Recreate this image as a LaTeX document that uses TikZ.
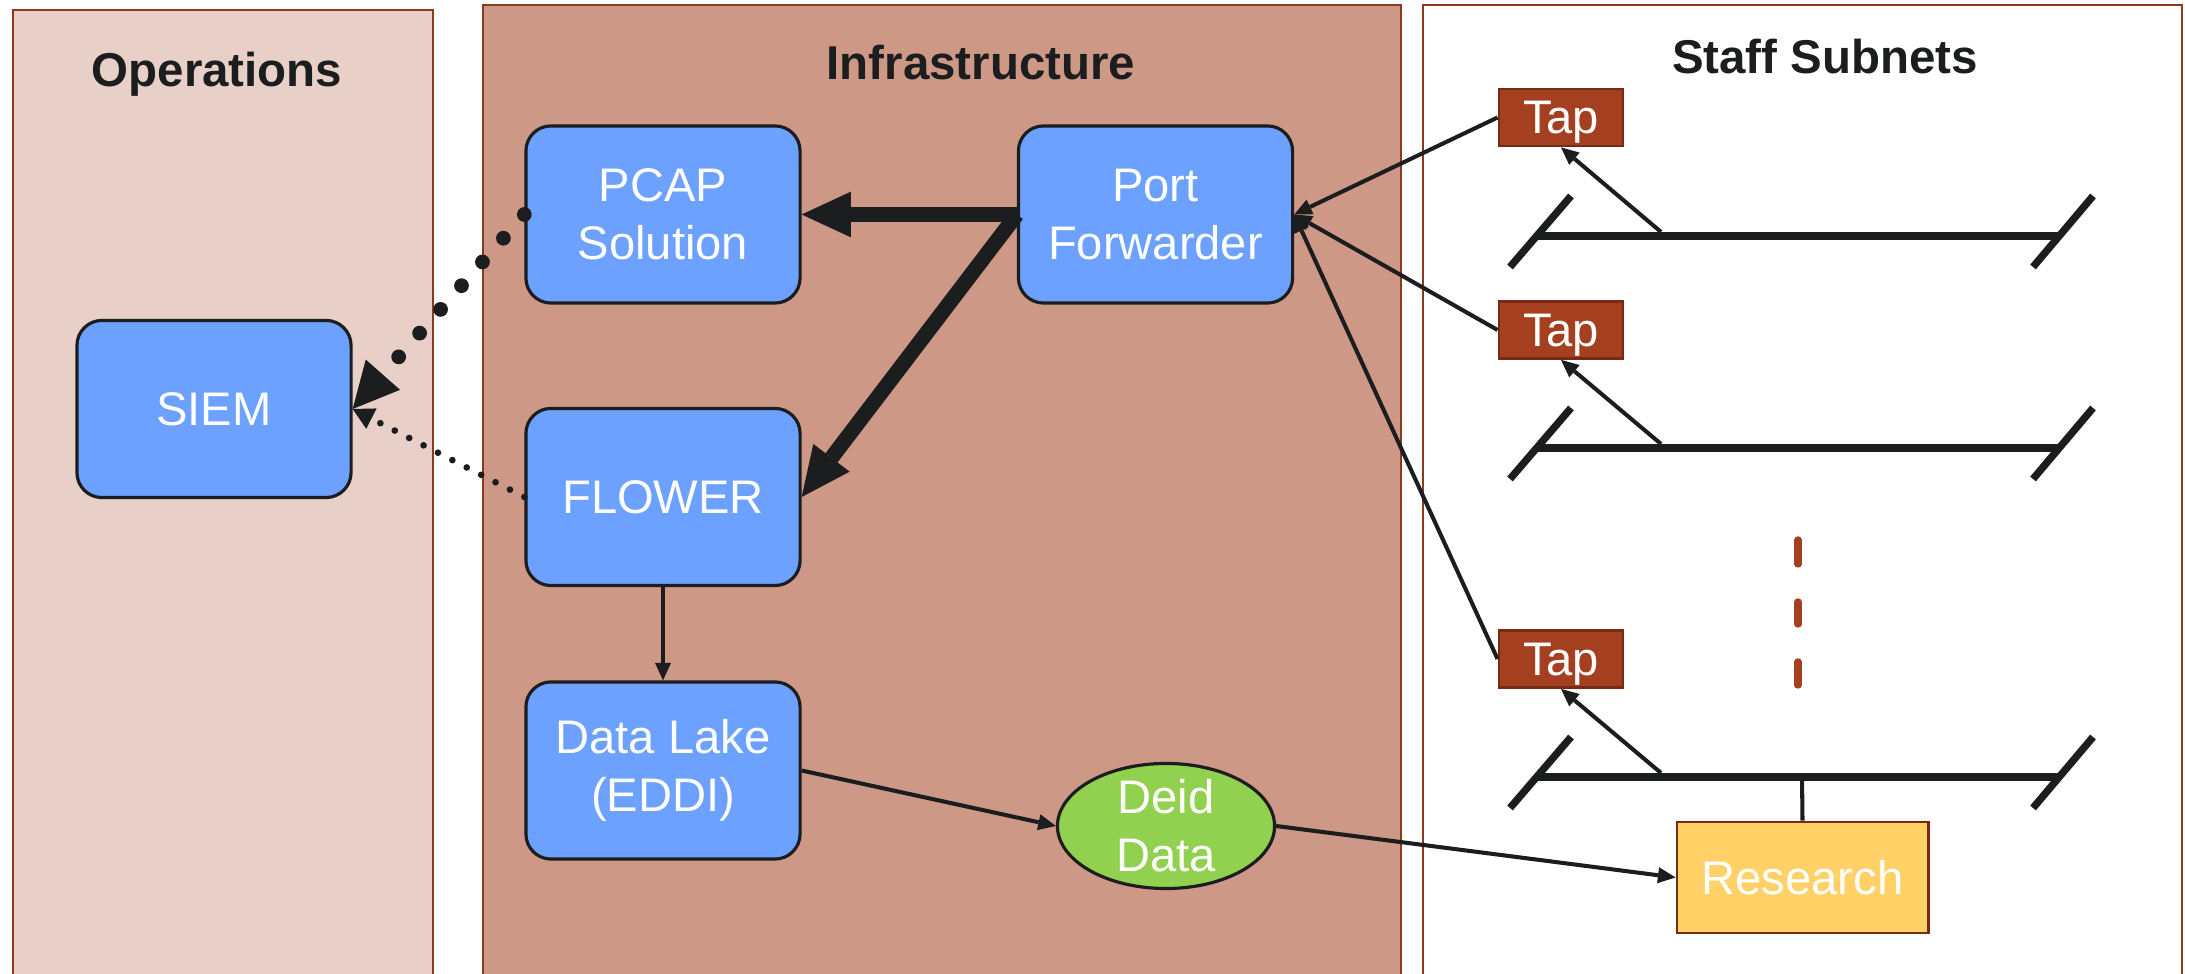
\documentclass[tikz,border=0pt]{standalone}
\usepackage{fontspec}
\setmainfont{Liberation Sans}
\usetikzlibrary{arrows.meta,shapes.geometric}
\definecolor{opsfill}{HTML}{E8CFC8}
\definecolor{infrafill}{HTML}{CE9886}
\definecolor{panelline}{HTML}{8B3A1E}
\definecolor{boxblue}{HTML}{6CA1FF}
\definecolor{ink}{HTML}{1B1D1F}
\definecolor{tapred}{HTML}{A43F1F}
\definecolor{tapline}{HTML}{7A2A12}
\definecolor{resyellow}{HTML}{FFD166}
\definecolor{deidgreen}{HTML}{92D050}
\begin{document}
\begin{tikzpicture}[x=0.01cm,y=-0.01cm,
  panel/.style={draw=panelline,line width=0.6pt},
  title/.style={anchor=base,inner sep=0pt,text=ink,font=\fontsize{13.5}{16}\selectfont\bfseries},
  boxtext/.style={text=white,align=center,font=\fontsize{13.4}{16.5}\selectfont},
  proc/.style={boxtext,draw=ink,line width=0.9pt,fill=boxblue,rounded corners=0.25cm,
    inner sep=0pt,minimum width=2.74cm,minimum height=1.77cm},
  tapbox/.style={boxtext,draw=tapline,line width=0.8pt,fill=tapred,inner sep=0pt,
    text depth=0pt,minimum width=1.24cm,minimum height=0.57cm},
  resbox/.style={boxtext,draw=tapline,line width=0.8pt,fill=resyellow,inner sep=0pt,
    minimum width=2.51cm,minimum height=1.11cm},
  deidnode/.style={ellipse,draw=ink,line width=0.9pt,fill=deidgreen,inner sep=0pt,
    minimum width=2.17cm,minimum height=1.25cm},
  thickarrow/.style={draw=ink,line width=4.3pt,-{Triangle[length=14pt,width=13pt,line width=0pt]}},
  thinarrow/.style={draw=ink,line width=1.15pt,-{Triangle[length=5pt,width=4.6pt,line width=0pt]}},
  thinline/.style={draw=ink,line width=1.15pt},
  heavydots/.style={draw=ink,line width=4.2pt,line cap=round,dash pattern=on 0pt off 9pt,
    -{Triangle[length=13pt,width=13pt,line width=0pt]}},
  lightdots/.style={draw=ink,line width=1.9pt,line cap=round,dash pattern=on 0pt off 4.6pt,
    -{Triangle[length=6pt,width=6.5pt,line width=0pt]}},
  busline/.style={draw=ink,line width=2.1pt},
  gapmark/.style={draw=tapred,line width=2.1pt,line cap=round}
]
\fill[white] (0,0) rectangle (2185,974);
\clip (0,0) rectangle (2185,974);

% swim lanes
\filldraw[panel,fill=opsfill] (13,10) rectangle (433,1000);
\filldraw[panel,fill=infrafill] (483,5) rectangle (1401,1000);
\filldraw[panel,fill=white] (1423,5) rectangle (2182,1000);

\node[title] (tops) at (217,87) {Operations};
\node[title] (tinfra) at (981,80) {Infrastructure};
\node[title] (tstaff) at (1825,74) {Staff Subnets};

% processing boxes
\node[proc] (siem) at (214,409) {SIEM};
\node[proc] (pcap) at (663,214.5) {PCAP\\Solution};
\node[proc] (port) at (1155.5,214.5) {Port\\Forwarder};
\node[proc] (flower) at (663,497) {FLOWER};
\node[proc] (lake) at (663,770.5) {Data Lake\\(EDDI)};
\node[deidnode,label={[boxtext]center:{Deid\\Data}}] (deid) at (1166,826) {};
\node[resbox] (research) at (1802.5,877.5) {Research};

% taps
\node[tapbox] (tap1) at (1561,117.5) {Tap};
\node[tapbox] (tap2) at (1561,330) {Tap};
\node[tapbox] (tap3) at (1561,659) {Tap};

% subnet buses with end markers
\foreach \Y/\n in {236/1,448/2,777/3}{
  \draw[busline] (1537,\Y) -- (2059,\Y);
  \draw[busline] (1510,\Y+31) -- (1571,\Y-40);
  \draw[busline] (2033,\Y+31) -- (2093,\Y-40);
  \coordinate (bus\n) at (1661,\Y-4);
}
\coordinate (bus3mid) at (1802,777);

% more subnets
\draw[gapmark] (1798,540) -- (1798,564) (1798,602) -- (1798,624) (1798,662) -- (1798,685);

% tap feeds
\draw[thinarrow] (bus1) -- (tap1.south);
\draw[thinarrow] (bus2) -- (tap2.south);
\draw[thinarrow] (bus3) -- (tap3.south);
\draw[thinarrow] (tap1.west) -- (port.east);
\draw[thinarrow] (tap2.west) -- (port.east);
\draw[thinarrow] (tap3.west) -- (port.east);

% forwarding
\draw[thickarrow] (port.west) -- (pcap.east);
\draw[thickarrow] (port.west) -- (flower.east);

% alerts to SIEM
\draw[heavydots] (pcap.west) -- (siem.east);
\draw[lightdots] (flower.west) -- (siem.east);

% data flow
\draw[thinarrow] (flower.south) -- (lake.north);
\draw[thinarrow] (lake.east) -- (deid.west);
\draw[thinarrow] (deid.east) -- (research.west);
\draw[thinline] (bus3mid) -- (research.north);
\end{tikzpicture}
\end{document}
